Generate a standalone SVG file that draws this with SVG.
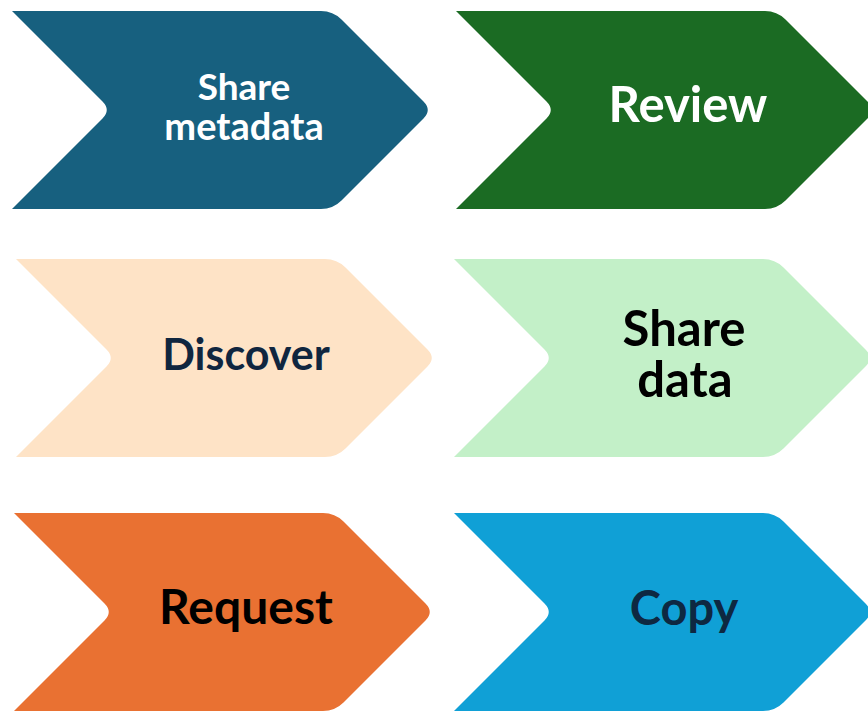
<svg xmlns="http://www.w3.org/2000/svg" width="868" height="712" viewBox="0 0 868 712">
<defs>
<path id="chev" d="M0,0 L309,0 Q321,0 329.5,8.5 L411.5,90.5 Q420,99 411.5,107.5 L329.5,189.5 Q321,198 309,198 L0,198 L90.5,107.5 Q99,99 90.5,90.5 Z"/>
</defs>
<style>
.t{font-family:Lato,"Open Sans","Liberation Sans",sans-serif;font-weight:bold;text-anchor:middle}
</style>
<rect width="868" height="712" fill="#ffffff"/>
<g id="connectors"></g>
<g id="share-metadata">
<use href="#chev" x="12" y="11" fill="#17607F"/>
<text class="t" x="244" y="100" font-size="37" fill="#ffffff">Share</text>
<text class="t" x="244" y="140" font-size="38" fill="#ffffff">metadata</text>
</g>
<g id="review">
<use href="#chev" x="456" y="11" fill="#1B6B23"/>
<text class="t" x="688" y="122" font-size="49" fill="#ffffff">Review</text>
</g>
<g id="discover">
<use href="#chev" x="16" y="259" fill="#FEE3C6"/>
<text class="t" x="246" y="370" font-size="43" fill="#10263F">Discover</text>
</g>
<g id="share-data">
<use href="#chev" x="454" y="259" fill="#C3F0C8"/>
<text class="t" x="684" y="346" font-size="49" fill="#000000">Share</text>
<text class="t" x="685" y="397" font-size="49" fill="#000000">data</text>
</g>
<g id="request">
<use href="#chev" x="14" y="513" fill="#E97132"/>
<text class="t" x="246" y="624" font-size="48" fill="#000000">Request</text>
</g>
<g id="copy">
<use href="#chev" x="454" y="513" fill="#10A0D6"/>
<text class="t" x="684" y="625" font-size="47" fill="#0E2841">Copy</text>
</g>
</svg>
